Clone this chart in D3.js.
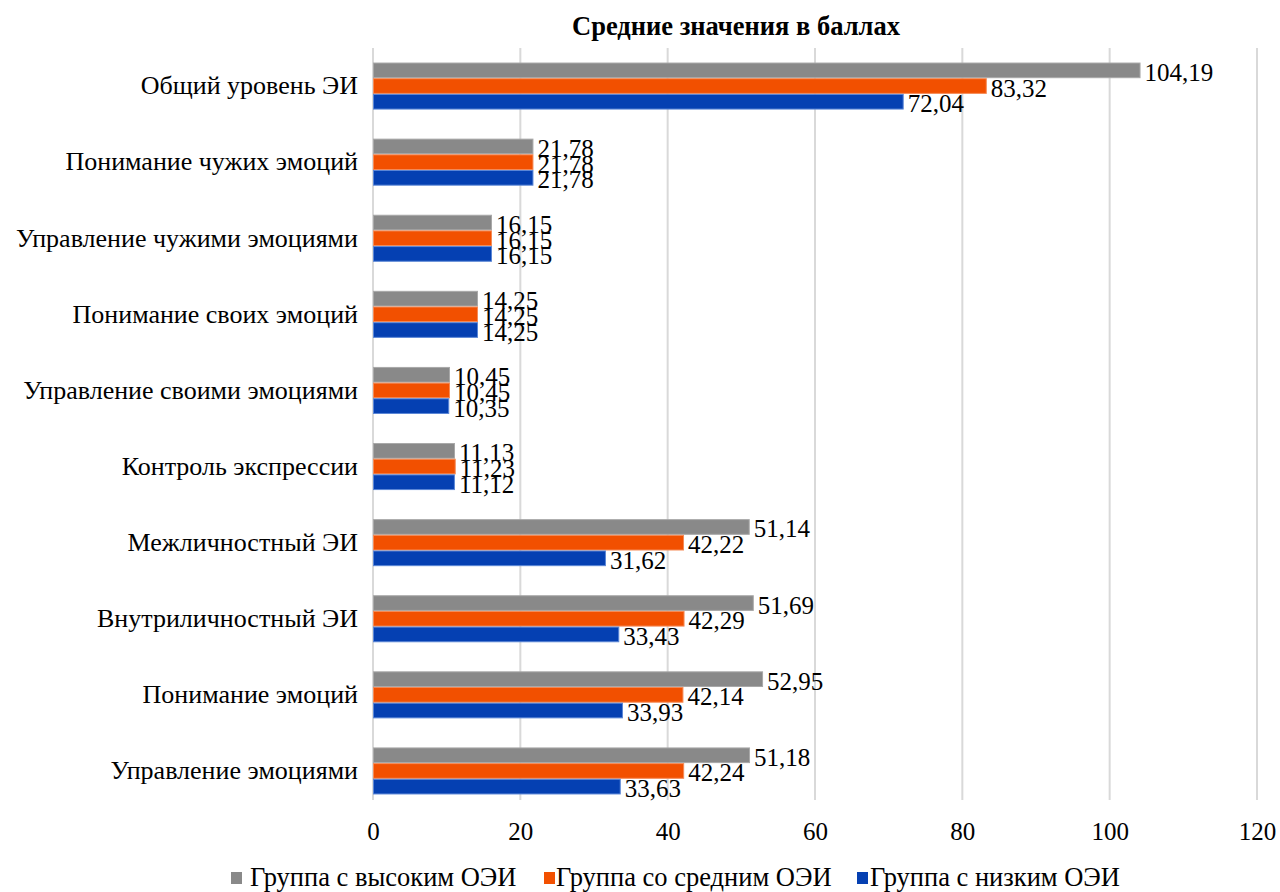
<!DOCTYPE html>
<html><head><meta charset="utf-8">
<script src="https://cdn.jsdelivr.net/npm/d3@7"></script>
</head><body style="margin:0;background:#fff">
<svg id="c" width="1280" height="892" font-family="Liberation Serif"></svg>
<script>
const categories = ["Общий уровень ЭИ","Понимание чужих эмоций","Управление чужими эмоциями","Понимание своих эмоций","Управление своими эмоциями","Контроль экспрессии","Межличностный ЭИ","Внутриличностный ЭИ","Понимание эмоций","Управление эмоциями"];
const seriesNames = ["Группа с высоким ОЭИ","Группа со средним ОЭИ","Группа с низким ОЭИ"];
const high = [104.19,21.78,16.15,14.25,10.45,11.13,51.14,51.69,52.95,51.18];
const mid  = [83.32,21.78,16.15,14.25,10.45,11.23,42.22,42.29,42.14,42.24];
const low  = [72.04,21.78,16.15,14.25,10.35,11.12,31.62,33.43,33.93,33.63];
const xTicks = [0,20,40,60,80,100,120];
const title = "Средние значения в баллах";
const colors = ["#898989","#f25000","#0540b2"];
const strokes = ["#a8a8a8","#f58a55","#5a86d6"];
const FF = "Liberation Serif";

const svg = d3.select("#c");
const x = d3.scaleLinear().domain([0,120]).range([373,1257]);
const y = d3.scaleBand().domain(categories).range([48,809]).paddingInner(0.382).paddingOuter(0.191);
const ys = d3.scaleBand().domain([0,1,2]).range([0,y.bandwidth()]);
const series = [high,mid,low];

svg.append("g").selectAll("line").data(xTicks).join("line")
  .attr("x1",d=>x(d)).attr("x2",d=>x(d)).attr("y1",48).attr("y2",800)
  .attr("stroke","#d9d9d9").attr("stroke-width",2);

svg.append("text").attr("x",736).attr("y",35).attr("text-anchor","middle")
  .attr("font-family",FF).attr("font-size",26.5).attr("font-weight","bold").attr("fill","#000").text(title);

series.forEach((vals,si)=>{
  const g = svg.append("g");
  g.selectAll("rect").data(categories).join("rect")
    .attr("x",x(0)+0.5).attr("y",(c)=>y(c)+ys(si)+0.5)
    .attr("width",(c,i)=>x(vals[i])-x(0)-1).attr("height",ys.bandwidth()-1)
    .attr("fill",colors[si]).attr("stroke",strokes[si]).attr("stroke-width",1);
  g.selectAll("text").data(categories).join("text")
    .attr("x",(c,i)=>x(vals[i])+4).attr("y",(c)=>y(c)+ys(si)+ys.bandwidth()/2+2)
    .attr("dominant-baseline","central")
    .attr("font-family",FF).attr("font-size",25).attr("fill","#000")
    .text((c,i)=>d3.format(".2f")(vals[i]).replace(".",","));
});

const yAxis = d3.axisLeft(y).tickSize(0).tickPadding(15);
const ya = svg.append("g").attr("transform",`translate(${x(0)},0)`).call(yAxis);
ya.attr("font-family",FF).attr("font-size",26);
ya.select(".domain").remove();
ya.selectAll("text").attr("font-family",FF).attr("font-size",26).attr("fill","#000");

const xAxis = d3.axisBottom(x).tickValues(xTicks).tickSize(0).tickPadding(0).tickFormat(d3.format("d"));
const xa = svg.append("g").attr("transform","translate(0,840)").call(xAxis);
xa.attr("font-family",FF).attr("font-size",25);
xa.select(".domain").remove();
xa.selectAll("text").attr("font-family",FF).attr("font-size",25).attr("fill","#000").attr("dy",0);

const legendPos = [[231,250],[544,556],[857,870]];
const lg = svg.append("g");
seriesNames.forEach((n,i)=>{
  lg.append("rect").attr("x",legendPos[i][0]).attr("y",872).attr("width",11).attr("height",12).attr("fill",colors[i]);
  lg.append("text").attr("x",legendPos[i][1]).attr("y",886)
    .attr("font-family",FF).attr("font-size",26.5).attr("fill","#000").text(n);
});
</script></body></html>
